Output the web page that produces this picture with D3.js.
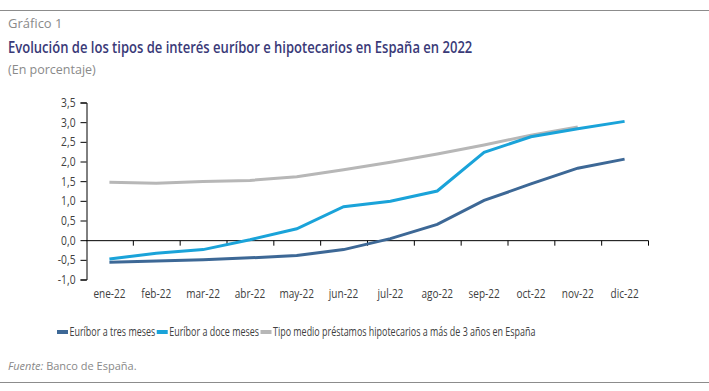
<!DOCTYPE html>
<html><head><meta charset="utf-8">
<script src="https://cdn.jsdelivr.net/npm/d3@7"></script>
<style>body{margin:0;background:#fff}svg{display:block}</style>
</head><body>
<svg id="c" width="709" height="391"></svg>
<script>
const months = ["ene-22","feb-22","mar-22","abr-22","may-22","jun-22","jul-22","ago-22","sep-22","oct-22","nov-22","dic-22"];
const euribor3m = [-0.56,-0.53,-0.50,-0.45,-0.39,-0.24,0.04,0.40,1.01,1.43,1.83,2.06];
const euribor12m = [-0.48,-0.33,-0.24,0.01,0.29,0.85,0.99,1.25,2.23,2.63,2.83,3.02];
const hipotecarios = [1.47,1.45,1.49,1.52,1.61,1.79,1.98,2.19,2.42,2.67,2.88,null];
const yTicks = [3.5,3.0,2.5,2.0,1.5,1.0,0.5,0.0,-0.5,-1.0];
const seriesNames = ["Euríbor a tres meses","Euríbor a doce meses","Tipo medio préstamos hipotecarios a más de 3 años en España"];
const colors = ["#3d6896","#1aa3d9","#b7b7b7"];

const svg = d3.select("#c");
const FONT = "'Open Sans',sans-serif";
const x = d3.scaleBand().domain(months).range([86,648]);
const y = d3.scaleLinear().domain([-1,3.5]).range([279.5,102.5]);

function condense(sel, f){
  sel.each(function(){
    const w = this.getComputedTextLength();
    d3.select(this).attr("textLength", w*f).attr("lengthAdjust","spacingAndGlyphs");
  });
}

// rules
svg.append("line").attr("x1",0).attr("x2",709).attr("y1",10.5).attr("y2",10.5).attr("stroke","#8c8c8c").attr("stroke-width",1);
svg.append("line").attr("x1",0).attr("x2",709).attr("y1",382.5).attr("y2",382.5).attr("stroke","#8c8c8c").attr("stroke-width",1);

svg.append("text").attr("x",8).attr("y",28).attr("font-family",FONT).attr("font-size",13).attr("fill","#8a8a8a").text("Gráfico 1");
svg.append("g").attr("transform","translate(8,53) scale(0.79,1)")
  .append("text").attr("font-family",FONT).attr("font-size",16.5).attr("font-weight",600).attr("fill","#3a3a78")
  .text("Evolución de los tipos de interés euríbor e hipotecarios en España en 2022");
svg.append("text").attr("x",8).attr("y",74).attr("font-family",FONT).attr("font-size",12.5).attr("fill","#8a8a8a").text("(En porcentaje)");

// y axis
const ya = svg.append("g").attr("transform","translate(86.5,0)")
  .call(d3.axisLeft(y).tickValues(yTicks).tickSize(6).tickFormat(d=>d3.format(".1f")(d).replace(".",",").replace("−","-")));
ya.select(".domain").attr("stroke","#000");
ya.selectAll(".tick line").attr("stroke","#000");
ya.selectAll("text").attr("font-family",FONT).attr("font-size",12.5).attr("fill","#404040").attr("dx",-2).call(condense,0.82);

// x axis at zero
const xa = svg.append("g").attr("transform",`translate(0,${y(0)+0.5})`);
xa.append("line").attr("x1",86).attr("x2",648.5).attr("stroke","#000");
xa.selectAll("line.t").data(months).join("line").attr("class","t")
  .attr("x1",d=>x(d)+x.bandwidth()+0.5).attr("x2",d=>x(d)+x.bandwidth()+0.5).attr("y1",0).attr("y2",5).attr("stroke","#000");
svg.append("g").selectAll("text").data(months).join("text")
  .attr("x",d=>x(d)+x.bandwidth()/2).attr("y",298).attr("text-anchor","middle")
  .attr("font-family",FONT).attr("font-size",12.5).attr("fill","#404040").text(d=>d).call(condense,0.8);

// lines
const series = [euribor3m, euribor12m, hipotecarios];
const line = d3.line().defined(d=>d[1]!=null).x(d=>x(d[0])+x.bandwidth()/2).y(d=>y(d[1]));
[2,0,1].forEach(i=>{
  svg.append("path").datum(months.map((m,j)=>[m,series[i][j]]))
    .attr("d",line).attr("fill","none").attr("stroke",colors[i]).attr("stroke-width",3);
});

// legend
const lg = svg.append("g");
const LF = 0.745;
let lx = 57;
seriesNames.forEach((n,i)=>{
  lg.append("line").attr("x1",lx).attr("x2",lx+11).attr("y1",332).attr("y2",332).attr("stroke",colors[i]).attr("stroke-width",4);
  const g = lg.append("g").attr("transform",`translate(${lx+12.5},336) scale(${LF},1)`);
  const t = g.append("text").attr("font-family",FONT).attr("font-size",12).attr("fill","#404040").text(n);
  const w = t.node().getComputedTextLength()*LF;
  lx += 12.5 + w + 1.5;
});

// source
const src = svg.append("text").attr("x",8).attr("y",370).attr("font-family",FONT).attr("font-size",11).attr("fill","#888");
src.append("tspan").attr("font-style","italic").text("Fuente:");
src.append("tspan").text(" Banco de España.");
</script>
</body></html>
